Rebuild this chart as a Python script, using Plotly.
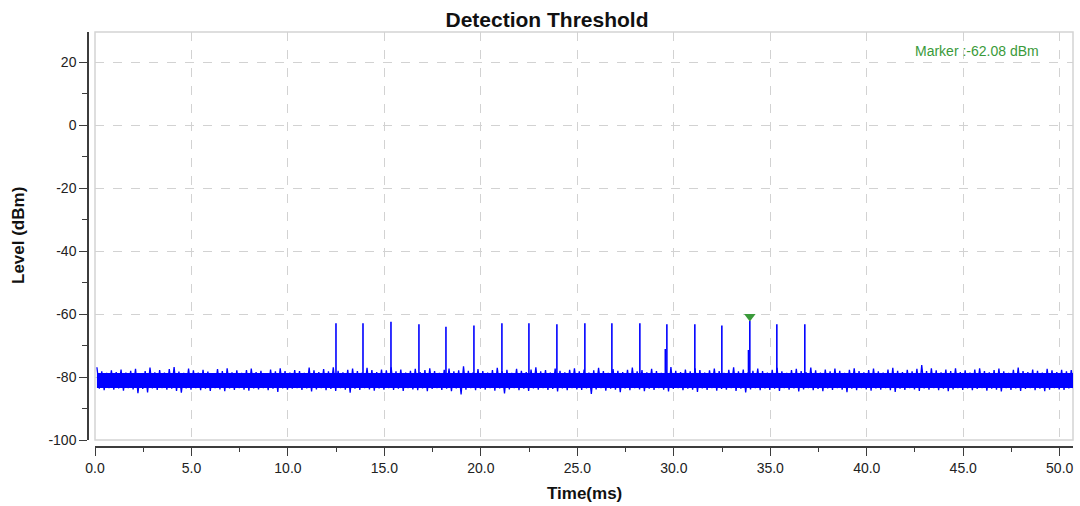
import numpy as np
import plotly.graph_objects as go

# ---------------- data ----------------
title_text = "Detection Threshold"
x_title = "Time(ms)"
y_title = "Level (dBm)"

x_tick_vals = [0, 5, 10, 15, 20, 25, 30, 35, 40, 45, 50]
x_tick_text = ["0.0", "5.0", "10.0", "15.0", "20.0", "25.0", "30.0", "35.0", "40.0", "45.0", "50.0"]
y_tick_vals = [20, 0, -20, -40, -60, -80, -100]
y_tick_text = ["20", "0", "-20", "-40", "-60", "-80", "-100"]

# noise floor: dense core band and the extremes of the noise, sampled every 0.25 ms from 0.1 ms
noise_core = [-78.7, -83.5]
noise_t0 = 0.1
noise_dt = 0.25
noise_hi = [
    -76.9, -78.2, -78.7, -77.9, -78.4, -77.6, -78.6, -78.0, -77.4, -78.8, -78.1, -77.0, -78.5, -77.8, -78.6, -77.5, -76.8, -78.3, -78.7, -77.3,
    -77.9, -78.6, -77.7, -78.3, -78.9, -77.5, -78.1, -77.2, -78.5, -77.9, -78.7, -77.8, -77.3, -78.4, -78.0, -78.8, -77.6, -78.2, -77.2, -78.1,
    -78.6, -77.8, -78.1, -78.7, -77.0, -77.9, -78.4, -77.5, -78.2, -76.9, -78.0, -78.5, -77.7, -77.3, -78.1, -78.6, -77.1, -77.8, -78.4, -77.6,
    -77.9, -76.9, -78.2, -77.6, -78.6, -78.0, -77.4, -78.4, -77.8, -77.2, -78.1, -78.7, -77.7, -77.3, -78.2, -77.9, -76.6, -78.0, -78.5, -77.5,
    -78.1, -78.6, -77.8, -77.1, -78.2, -77.7, -78.7, -77.4, -78.0, -78.4, -77.6, -76.9, -78.2, -77.8, -78.6, -77.3, -78.0, -78.5, -77.7, -77.2,
    -78.2, -77.6, -78.6, -77.9, -77.1, -78.1, -78.7, -77.5, -78.0, -78.4, -77.7, -77.0, -78.2, -77.8, -78.5, -77.4, -78.1, -78.7, -77.7, -76.8,
    -78.0, -78.4, -77.6, -78.2, -77.2, -77.8, -78.6, -77.9, -77.3, -78.1, -78.7, -77.7, -76.9, -78.2, -77.6, -78.5, -78.0, -77.3, -78.1, -78.6,
    -77.7, -77.1, -78.2, -78.7, -77.8, -77.4, -78.1, -78.4, -77.0, -77.9, -78.6, -77.6, -78.2, -77.3, -78.0, -78.7, -77.7, -77.2, -78.1, -78.5,
    -77.8, -77.3, -78.2, -78.6, -77.6, -77.1, -78.0, -78.4, -77.7, -78.2, -77.4, -76.2, -78.1, -77.2, -77.9, -78.5, -77.6, -78.1, -77.2, -78.4,
    -77.9, -78.6, -77.6, -77.2, -78.1, -78.5, -77.8, -77.3, -78.2, -78.7, -77.7, -77.0, -78.1, -78.4, -77.6, -78.0, -78.6, -77.4, -77.9, -78.4,
    -77.7, -78.2, -77.8,
]
noise_lo = [
    -83.7, -84.2, -83.5, -84.0, -83.6, -84.3, -83.5, -83.9, -85.1, -83.8, -84.9, -83.6, -84.1, -83.5, -84.0, -83.7, -84.4, -85.0, -83.6, -84.0,
    -83.5, -84.2, -83.7, -84.4, -83.5, -83.9, -84.5, -83.6, -84.1, -83.5, -84.0, -84.3, -83.6, -83.9, -83.5, -84.2, -83.7, -84.7, -83.6, -84.0,
    -83.7, -83.5, -84.1, -83.6, -84.6, -83.9, -83.5, -84.2, -83.8, -84.4, -83.5, -84.0, -85.0, -83.7, -84.1, -83.5, -83.9, -84.3, -83.6, -84.0,
    -83.5, -84.1, -83.7, -84.4, -83.5, -83.9, -84.2, -83.6, -84.5, -83.8, -83.5, -84.1, -83.7, -84.5, -83.6, -85.5, -84.0, -83.5, -84.2, -83.7,
    -84.0, -83.5, -84.3, -83.6, -85.2, -83.9, -83.5, -84.2, -83.7, -84.4, -83.6, -84.0, -83.5, -84.1, -83.8, -84.6, -83.6, -84.2, -83.5, -83.9,
    -84.1, -83.6, -85.4, -83.9, -83.5, -84.3, -83.7, -84.0, -84.8, -83.6, -84.2, -83.5, -83.9, -84.5, -83.7, -84.1, -83.5, -84.0, -84.6, -83.8,
    -83.5, -84.2, -83.7, -84.0, -84.7, -83.6, -84.1, -83.5, -84.3, -83.8, -84.0, -83.5, -84.4, -83.7, -84.9, -83.9, -83.5, -84.2, -83.6, -84.1,
    -83.7, -84.4, -83.5, -84.0, -83.6, -84.6, -83.9, -83.5, -84.2, -83.8, -84.5, -83.6, -84.1, -83.5, -84.0, -84.8, -83.7, -84.2, -83.5, -83.9,
    -84.3, -83.6, -84.0, -83.5, -84.2, -84.7, -83.7, -84.1, -83.5, -83.9, -84.4, -83.6, -84.0, -83.5, -84.2, -83.7, -84.5, -83.9, -83.5, -84.1,
    -83.6, -84.2, -83.8, -83.5, -84.3, -83.7, -84.0, -84.6, -83.5, -84.1, -83.6, -84.4, -83.8, -83.5, -84.2, -83.7, -84.5, -84.0, -83.5, -83.9,
    -84.1, -83.6, -84.0,
]

# pulses (ms, dBm)
pulse_time = [12.49, 13.89, 15.34, 16.79, 18.19, 19.64, 21.09, 22.49, 23.94,
              25.39, 26.79, 28.24, 29.64, 31.09, 32.49, 33.94, 35.34, 36.79]
pulse_peak = [-62.9, -62.9, -62.4, -63.2, -64.0, -63.6, -62.9, -62.9, -63.2,
              -62.9, -62.9, -62.9, -63.2, -63.2, -63.6, -62.08, -63.2, -63.2]
pulse_base = -81.0
# secondary (adjacent sample) pulses
pulse2_time = [29.56, 33.87]
pulse2_peak = [-71.1, -71.4]

marker_time = 33.94
marker_level = -62.08

x_range = [0, 50.69]
y_range = [-100, 29.6]

# ---------------- figure ----------------
BLUE = "#0000ff"
GREEN = "#3a9a3a"
FONT = "Liberation Sans"

t_hi = noise_t0 + noise_dt * np.arange(len(noise_hi))
t_lo = noise_t0 + noise_dt * np.arange(len(noise_lo)) + noise_dt / 2
n = min(len(t_hi), len(t_lo))
zig_x = np.empty(2 * n)
zig_y = np.empty(2 * n)
zig_x[0::2] = t_hi[:n]
zig_x[1::2] = t_lo[:n]
zig_y[0::2] = np.array(noise_hi[:n])
zig_y[1::2] = np.array(noise_lo[:n])
t_first, t_last = float(zig_x[0]), float(zig_x[-1])

fig = go.Figure()
# dense core of the noise band
fig.add_trace(go.Scatter(x=[t_first, t_last], y=[noise_core[1], noise_core[1]], mode="lines",
                         line=dict(color=BLUE, width=0), hoverinfo="skip", showlegend=False))
fig.add_trace(go.Scatter(x=[t_first, t_last], y=[noise_core[0], noise_core[0]], mode="lines",
                         fill="tonexty", fillcolor=BLUE,
                         line=dict(color=BLUE, width=0), hoverinfo="skip", showlegend=False))
# noise extremes
fig.add_trace(go.Scatter(x=zig_x, y=zig_y, mode="lines", line=dict(color=BLUE, width=1.3),
                         hoverinfo="skip", showlegend=False))

sx, sy = [], []
for t, p in zip(pulse_time, pulse_peak):
    sx += [t, t, None]
    sy += [pulse_base, p, None]
fig.add_trace(go.Scatter(x=sx, y=sy, mode="lines", line=dict(color=BLUE, width=1.6),
                         showlegend=False))
sx2, sy2 = [], []
for t, p in zip(pulse2_time, pulse2_peak):
    sx2 += [t, t, None]
    sy2 += [pulse_base, p, None]
fig.add_trace(go.Scatter(x=sx2, y=sy2, mode="lines", line=dict(color=BLUE, width=1.6),
                         showlegend=False))

fig.add_trace(go.Scatter(x=[marker_time], y=[marker_level], mode="markers",
                         marker=dict(symbol="triangle-up", size=10, color=GREEN,
                                     angle=180, standoff=4),
                         showlegend=False))

W, H = 1080, 506
ml, mr, mt, mb = 88, 7, 32, 59
pw = W - ml - mr
ph = H - mt - mb

axis_common = dict(
    showline=True, linecolor="#3c3c3c", linewidth=1.5,
    ticks="outside", ticklen=8, tickwidth=1.2, tickcolor="#3c3c3c",
    showgrid=True, gridcolor="#d2d2d2", griddash="dash", gridwidth=1,
    zeroline=False, automargin=False, ticklabeloverflow="allow",
    tickfont=dict(family=FONT, size=14, color="#222222"),
    anchor="free", position=0, tickmode="array",
)

fig.update_layout(
    width=W, height=H,
    margin=dict(l=ml, r=mr, t=mt, b=mb, autoexpand=False),
    paper_bgcolor="white", plot_bgcolor="white",
    hovermode=False,
    title=dict(text=title_text, x=547 / W, xref="container", xanchor="center",
               y=1 - 20 / H, yref="container", yanchor="middle",
               font=dict(family=FONT, size=21, color="#111111", weight="bold")),
    xaxis=dict(range=x_range, domain=[7 / pw, 1], tickvals=x_tick_vals, ticktext=x_tick_text,
               minor=dict(dtick=2.5, tick0=0, ticklen=4, tickcolor="#3c3c3c", ticks="outside", showgrid=False),
               **axis_common),
    yaxis=dict(range=y_range, domain=[7 / ph, 1], tickvals=y_tick_vals, ticktext=y_tick_text,
               minor=dict(dtick=10, tick0=0, ticklen=5, tickcolor="#3c3c3c", ticks="outside", showgrid=False),
               **axis_common),
    showlegend=False,
)

# plot area border
fig.add_shape(type="rect", xref="x domain", yref="y domain", x0=0, x1=1, y0=0, y1=1,
              line=dict(color="#d4d4d4", width=1.5), layer="below")

# axis titles
fig.add_annotation(text=x_title, xref="x domain", yref="paper", x=0.5, y=(H - 493 - mb) / ph,
                   showarrow=False, xanchor="center", yanchor="middle",
                   font=dict(family=FONT, size=17, color="#111111", weight="bold"))
fig.add_annotation(text=y_title, xref="paper", yref="y domain", x=(18 - ml) / pw, y=0.5,
                   textangle=-90, showarrow=False, xanchor="center", yanchor="middle",
                   font=dict(family=FONT, size=17, color="#111111", weight="bold"))
# marker readout
fig.add_annotation(text=f"Marker :{marker_level:.2f} dBm", xref="paper", yref="paper",
                   x=(1041 - ml) / pw, y=(H - mb - 51) / ph, showarrow=False,
                   xanchor="right", yanchor="middle",
                   font=dict(family=FONT, size=14, color=GREEN))

# remove the default page margin so the figure fills the 1080x506 window exactly
fig.write_html("out.html", config={"displayModeBar": False},
               post_script="document.body.style.margin='0';document.body.style.overflow='hidden';")
